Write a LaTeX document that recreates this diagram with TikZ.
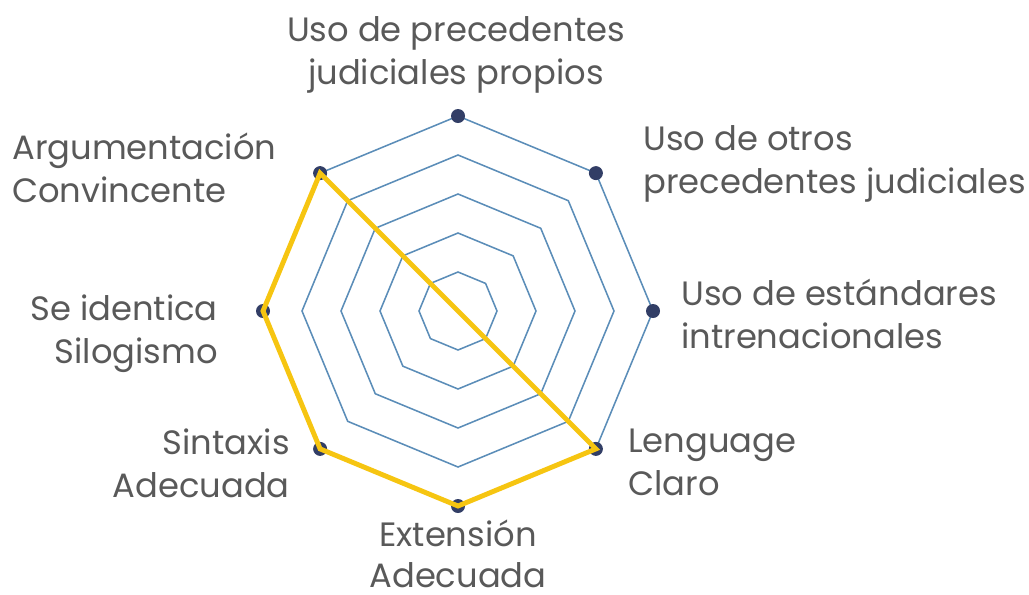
\documentclass[tikz,border=0pt]{standalone}
\usepackage{fontspec}
\setmainfont{Poppins}
\usetikzlibrary{positioning,calc}

\definecolor{gridblue}{HTML}{5B8DB8}
\definecolor{dotnavy}{HTML}{323E66}
\definecolor{lineyellow}{HTML}{F6C511}
\definecolor{labelgray}{HTML}{595959}

\begin{document}
\begin{tikzpicture}[x=0.025cm,y=-0.025cm,
  ring/.style={draw=gridblue, line width=1.1pt},
  dataline/.style={draw=lineyellow, line width=3.5pt},
  lbl/.style={text=labelgray, font=\fontsize{24}{30.5}\selectfont, inner sep=0pt}]

\useasboundingbox (0,0) rectangle (1029,594);

\coordinate (O) at (458,311);

% rings
\foreach \r in {1,...,5}{
  \draw[ring, shift={(O)}] (-90:39*\r) \foreach \k in {1,...,7}{ -- (45*\k-90:39*\r) } -- cycle;
}

% outer corners
\foreach \k in {0,...,7}
  \coordinate (v\k) at ($(O)+(45*\k-90:195)$);

\foreach \k in {0,...,7}
  \fill[dotnavy] (v\k) circle (7);

% values
\draw[dataline] (O) -- (v3) -- (v4) -- (v5) -- (v6) -- (v7) -- cycle;

% labels
\node[lbl, align=center] (lab0) at (456,55) {Uso de precedentes\\judiciales propios};
\node[lbl, align=left, anchor=west] (lab1) at (643,164) {Uso de otros\\precedentes judiciales};
\node[lbl, align=left, anchor=west] (lab2) at (681,314) {Uso de estándares\\intrenacionales};
\node[lbl, align=left, anchor=west] (lab3) at (628,462) {Lenguage\\Claro};
\node[lbl, align=center, font=\fontsize{24}{29}\selectfont] (lab4) at (458,554) {Extensión\\Adecuada};
\node[lbl, align=right, anchor=east] (lab5) at (290,463) {Sintaxis\\Adecuada};
\node[lbl, align=right, anchor=east] (lab6) at (218,334) {Se identica\\Silogismo};
\node[lbl, align=left, anchor=west] (lab7) at (12,168) {Argumentación\\Convincente};
\end{tikzpicture}
\end{document}
